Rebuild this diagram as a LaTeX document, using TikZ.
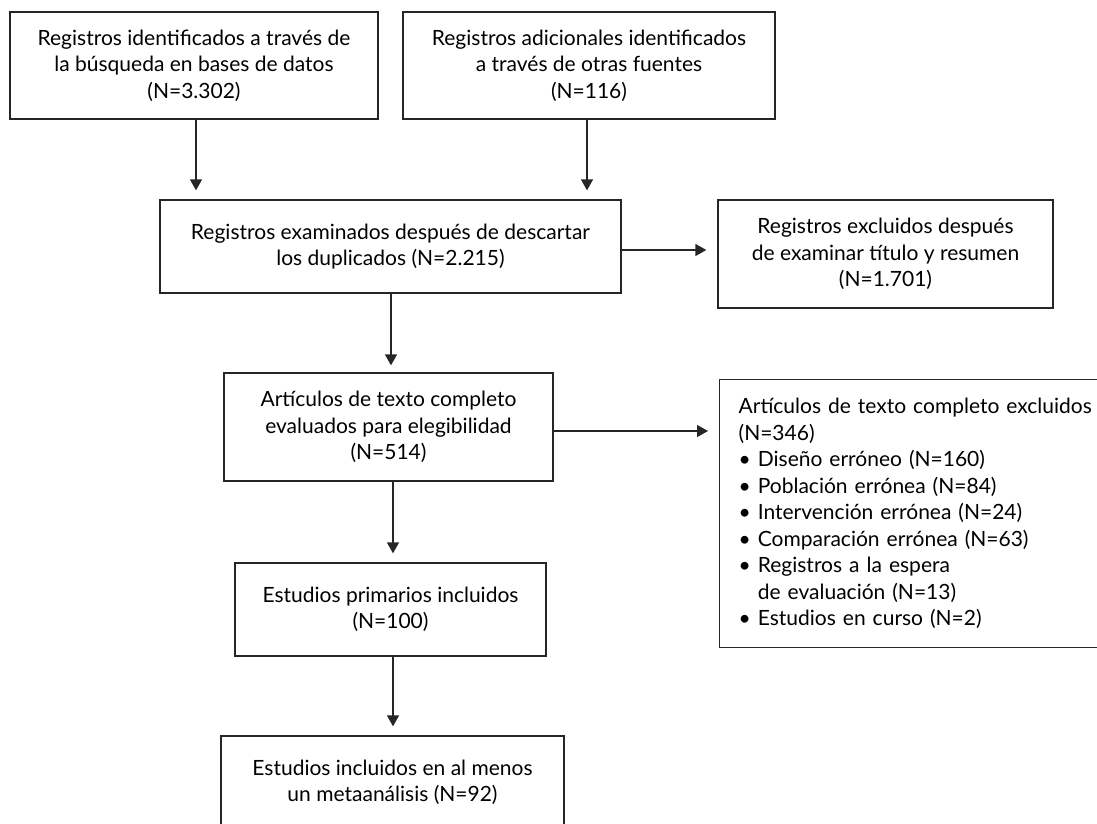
\documentclass[tikz,border=0pt]{standalone}
\usepackage{fontspec}
\setmainfont{Lato}
\usetikzlibrary{arrows.meta}
\begin{document}
\begin{tikzpicture}[x=1pt,y=-1pt,
  box/.style={draw=black!85, line width=1.3pt, rectangle, inner sep=0pt, align=center,
    font=\fontsize{21}{26.5}\selectfont},
  arr/.style={draw=black!85, line width=1.3pt, -{Triangle[width=12pt,length=11pt]}}]
\useasboundingbox (0,0) rectangle (1097,824);
\clip (0,0) rectangle (1097,824);
\node[box, minimum width=368pt, minimum height=107pt] (A) at (194,65.5)
  {Registros identificados a través de\\la búsqueda en bases de datos\\(N=3.302)};
\node[box, minimum width=372pt, minimum height=107pt] (B) at (589,65.5)
  {Registros adicionales identificados\\a través de otras fuentes\\(N=116)};
\node[box, minimum width=461pt, minimum height=93pt] (C) at (390.5,246.5)
  {Registros examinados después de descartar\\los duplicados (N=2.215)};
\node[box, minimum width=335pt, minimum height=108pt] (E) at (885.5,254)
  {Registros excluidos después\\de examinar título y resumen\\(N=1.701)};
\node[box, minimum width=329pt, minimum height=108pt] (D) at (388.5,427)
  {Artículos de texto completo\\evaluados para elegibilidad\\(N=514)};
\node[box, anchor=north west, minimum height=268pt, text width=380pt, inner xsep=19pt, align=left] (F) at (719,379)
  {Artículos de texto completo excluidos\\
   (N=346)\\
   \textbullet\ Diseño erróneo (N=160)\\
   \textbullet\ Población errónea (N=84)\\
   \textbullet\ Intervención errónea (N=24)\\
   \textbullet\ Comparación errónea (N=63)\\
   \textbullet\ Registros a la espera\\
   \phantom{\textbullet\ }de evaluación (N=13)\\
   \textbullet\ Estudios en curso (N=2)};
\node[box, minimum width=311pt, minimum height=93pt] (G) at (390.5,609.5)
  {Estudios primarios incluidos\\(N=100)};
\node[box, minimum width=343pt, minimum height=93pt] (H) at (392.5,782.5)
  {Estudios incluidos en al menos\\un metaanálisis (N=92)};
\draw[arr, shorten >=9pt] (A.south -| 196,0) -- (C.north -| 196,0);
\draw[arr, shorten >=9pt] (B.south -| 587,0) -- (C.north -| 587,0);
\draw[arr, shorten >=7pt] (C.south -| 391,0) -- (D.north -| 391,0);
\draw[arr, shorten >=9pt] (D.south -| 393,0) -- (G.north -| 393,0);
\draw[arr, shorten >=9pt] (G.south -| 393,0) -- (H.north -| 393,0);
\draw[arr, shorten >=11pt] (C.east |- 0,250) -- (E.west |- 0,250);
\draw[arr, shorten >=11pt] (D.east |- 0,431) -- (F.west |- 0,431);
\end{tikzpicture}
\end{document}
